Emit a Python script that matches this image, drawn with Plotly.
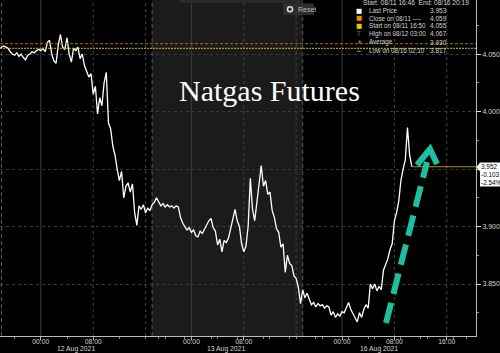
import plotly.graph_objects as go
import pandas as pd

# ---------------- data ----------------
start_time = "2021-08-11 16:50"
start_price = 4.055
session_starts = ["2021-08-11 18:00", "2021-08-12 18:00", "2021-08-15 18:00"]
session_ends = ["2021-08-12 16:40", "2021-08-13 16:40", "2021-08-16 10:40"]
step = "20min"

price_a = [4.056, 4.057, 4.056, 4.055, 4.052, 4.050, 4.049, 4.051, 4.048, 4.050,
           4.047, 4.045, 4.049, 4.050, 4.052, 4.051, 4.053, 4.054, 4.053, 4.055,
           4.052, 4.060, 4.062, 4.050, 4.044, 4.042, 4.058, 4.067, 4.056, 4.054,
           4.064, 4.050, 4.043, 4.055, 4.053, 4.056, 4.046, 4.050, 4.040, 4.035,
           4.030, 4.033, 4.015, 4.022, 3.998, 4.012, 4.005, 4.025, 4.034, 3.990,
           3.985, 3.970, 3.962, 3.950, 3.940, 3.948, 3.925, 3.935, 3.938, 3.930,
           3.937, 3.912, 3.901, 3.918, 3.915, 3.919, 3.912, 3.916, 3.914]
price_b = [3.919, 3.921, 3.925, 3.922, 3.918, 3.920, 3.917, 3.919, 3.917, 3.918,
           3.916, 3.918, 3.917, 3.908, 3.903, 3.900, 3.897, 3.899, 3.895, 3.897,
           3.892, 3.891, 3.896, 3.894, 3.898, 3.902, 3.905, 3.907, 3.899, 3.896,
           3.884, 3.889, 3.878, 3.888, 3.886, 3.890, 3.898, 3.905, 3.915, 3.905,
           3.900, 3.885, 3.878, 3.883, 3.900, 3.942, 3.915, 3.905, 3.920, 3.935,
           3.953, 3.935, 3.940, 3.928, 3.930, 3.914, 3.908, 3.898, 3.895, 3.882,
           3.885, 3.860, 3.875, 3.868, 3.866, 3.857, 3.855, 3.847, 3.833]
price_c = [3.845, 3.838, 3.842, 3.837, 3.832, 3.834, 3.830, 3.833, 3.831, 3.832,
           3.829, 3.831, 3.830, 3.823, 3.826, 3.821, 3.824, 3.822, 3.826, 3.825,
           3.829, 3.834, 3.828, 3.824, 3.821, 3.817, 3.825, 3.821, 3.828, 3.832,
           3.829, 3.850, 3.846, 3.850, 3.844, 3.848, 3.845, 3.862, 3.867, 3.872,
           3.880, 3.885, 3.905, 3.912, 3.922, 3.940, 3.950, 3.958, 3.986, 3.962,
           3.952]

close_prev = 4.059
start_val = 4.055
last_change = "-0.103"
last_pct = "-2.54%"

daily_breaks = ["2021-08-11 17:00", "2021-08-12 17:00", "2021-08-16 17:00"]
weekend_break = ["2021-08-13 17:00"]

x_tickvals = ["2021-08-12 00:00", "2021-08-12 08:00", "2021-08-13 00:00", "2021-08-13 08:00",
              "2021-08-16 00:00", "2021-08-16 08:00", "2021-08-16 16:00"]
x_ticktext = ["00:00", "08:00", "00:00", "08:00", "00:00", "08:00", "16:00"]
day_labels = ["12 Aug 2021", "13 Aug 2021", "16 Aug 2021"]
day_label_pos = ["2021-08-12 05:20", "2021-08-13 05:20", "2021-08-16 05:40"]
midnights = ["2021-08-12 00:00", "2021-08-13 00:00", "2021-08-16 00:00"]
dotted_hours = ["2021-08-12 08:00", "2021-08-12 16:00", "2021-08-13 08:00", "2021-08-13 16:00",
                "2021-08-16 08:00", "2021-08-16 16:00"]
session_bounds = ["2021-08-11 18:00", "2021-08-12 18:00", "2021-08-15 18:00"]
y_tickvals = [3.85, 3.90, 3.95, 4.00, 4.05]
y_ticktext = ["3.850", "3.900", "", "4.000", "4.050"]

legend_rows = [("■", "#ffffff", "Last Price", "3.953"),
               ("■", "#f08c00", "Close on 08/11 ----", "4.059"),
               ("■", "#e6c800", "Start on 08/11 16:50", "4.055"),
               ("⊤", "#bbbbbb", "High on 08/12 03:00", "4.067"),
               ("+", "#bbbbbb", "Average", "3.930"),
               ("⊥", "#bbbbbb", "Low on 08/16 02:10", "3.817")]

# ---------------- build series ----------------
times = [pd.Timestamp(start_time)]
prices = [start_price]
for s, e, vals in zip(session_starts, session_ends, [price_a, price_b, price_c]):
    rng = pd.date_range(s, e, freq=step)
    times += list(rng)
    prices += vals

x_range = ["2021-08-11 16:46", "2021-08-16 21:28"]

W, H = 476.0, 336.0
def px(x):
    return x / W
def py(y):
    return 1 - y / H

TXT = "#d4d4d4"
FONT = "Liberation Sans"

fig = go.Figure()
fig.add_trace(go.Scatter(x=times, y=prices, mode="lines",
                         line=dict(color="#ffffff", width=1.3),
                         showlegend=False, hoverinfo="skip"))

shapes = []
shapes.append(dict(type="rect", xref="x", yref="paper", x0="2021-08-12 18:00", x1="2021-08-13 16:59:59",
                   y0=0, y1=1, fillcolor="#1b1b1b", line=dict(width=0), layer="below"))
for d in midnights:
    shapes.append(dict(type="line", xref="x", yref="paper", x0=d, x1=d, y0=0, y1=1,
                       line=dict(color="#3c3c3c", width=1), layer="below"))
for d in dotted_hours:
    shapes.append(dict(type="line", xref="x", yref="paper", x0=d, x1=d, y0=0, y1=1,
                       line=dict(color="#444444", width=1, dash="dot"), layer="below"))
for d in session_bounds:
    shapes.append(dict(type="line", xref="x", yref="paper", x0=d, x1=d, y0=0, y1=1,
                       line=dict(color="#5a5a5a", width=1, dash="4px,3px"), layer="below"))
shapes.append(dict(type="line", xref="paper", yref="y", x0=0, x1=1, y0=close_prev, y1=close_prev,
                   line=dict(color="#a0701a", width=1, dash="3px,2px")))
shapes.append(dict(type="line", xref="paper", yref="y", x0=0, x1=1, y0=start_val, y1=start_val,
                   line=dict(color="#d8b814", width=1, dash="2px,1px")))
shapes.append(dict(type="line", xref="x", yref="y", x0=times[-1], x1=x_range[1],
                   y0=prices[-1], y1=prices[-1], line=dict(color="#b09010", width=1)))
shapes.append(dict(type="path", xref="paper", yref="paper",
                   path=f"M {px(476.5)},{py(167)} L {px(480)},{py(162.5)} L {px(500)},{py(162.5)} "
                        f"L {px(500)},{py(186.5)} L {px(480)},{py(186.5)} L {px(480)},{py(171.5)} Z",
                   fillcolor="#ffffff", line=dict(width=0)))
shapes.append(dict(type="line", xref="paper", yref="paper", x0=px(386), y0=py(323), x1=px(427), y1=py(162),
                   line=dict(color="#1cc09f", width=6, dash="21px,9px")))
shapes.append(dict(type="path", xref="paper", yref="paper",
                   path=f"M {px(417)},{py(165)} L {px(430)},{py(149)} L {px(437)},{py(164)}",
                   line=dict(color="#1cc09f", width=6)))
shapes.append(dict(type="rect", xref="paper", yref="paper", x0=px(180), x1=px(303), y0=py(3), y1=py(0),
                   fillcolor="#2a2a2a", line=dict(width=0)))
shapes.append(dict(type="rect", xref="paper", yref="paper", x0=px(283), x1=px(314), y0=py(15), y1=py(3.5),
                   fillcolor="#2e2e2e", line=dict(width=0)))
shapes.append(dict(type="circle", xref="paper", yref="paper", x0=px(287.5), x1=px(292.5), y0=py(11.7), y1=py(6.7),
                   fillcolor="#2e2e2e", line=dict(color="#e0e0e0", width=1.5)))

annotations = []
annotations.append(dict(text="Natgas Futures", xref="paper", yref="paper", x=px(269), y=py(91),
                        yanchor="middle", showarrow=False,
                        font=dict(family="Liberation Serif", size=30, color="#ffffff")))
annotations.append(dict(text="Reset", xref="paper", yref="paper", x=px(296), y=py(9.3), xanchor="left",
                        yanchor="middle", showarrow=False, font=dict(family=FONT, size=7, color="#bbbbbb")))
for lab, pos in zip(day_labels, day_label_pos):
    annotations.append(dict(text=lab, xref="x", yref="paper", x=pos, y=py(349), yanchor="middle",
                            showarrow=False, font=dict(family=FONT, size=6.8, color=TXT)))
for t, yy in zip([f"{prices[-1]:.3f}", last_change, last_pct], [166.8, 174.5, 182.3]):
    annotations.append(dict(text=t, xref="paper", yref="paper", x=px(478.8), y=py(yy), xanchor="left",
                            yanchor="middle", showarrow=False, font=dict(family=FONT, size=6.4, color="#000000")))
annotations.append(dict(text="Start: 08/11 16:46  End: 08/16 20:19", xref="paper", yref="paper",
                        x=px(471), y=py(3), xanchor="right", yanchor="middle", showarrow=False,
                        font=dict(family=FONT, size=6.6, color=TXT)))
row_y = [10.7, 18.3, 26, 34, 42.3, 50]
for (ic, col, lab, val), yy in zip(legend_rows, row_y):
    annotations.append(dict(text=ic, xref="paper", yref="paper", x=px(362.5), y=py(yy), xanchor="right",
                            yanchor="middle", showarrow=False, borderpad=0,
                            font=dict(family="DejaVu Sans", size=6.5, color=col)))
    annotations.append(dict(text=lab, xref="paper", yref="paper", x=px(366.5), y=py(yy), xanchor="left",
                            yanchor="middle", showarrow=False, font=dict(family=FONT, size=6.3, color=TXT)))
    annotations.append(dict(text=val, xref="paper", yref="paper", x=px(449), y=py(yy), xanchor="right",
                            yanchor="middle", showarrow=False, font=dict(family=FONT, size=6.5, color=TXT)))

fig.update_layout(
    width=500, height=353,
    margin=dict(l=0, r=24, t=0, b=17),
    paper_bgcolor="#000000", plot_bgcolor="#000000",
    shapes=shapes, annotations=annotations,
    showlegend=False,
    xaxis=dict(type="date", range=x_range, automargin=False,
               rangebreaks=[dict(values=daily_breaks, dvalue=3600000),
                            dict(values=weekend_break, dvalue=49 * 3600000)],
               tickvals=x_tickvals, ticktext=x_ticktext, showgrid=False, zeroline=False,
               ticks="outside", ticklen=3, tickcolor="#bbbbbb", ticklabelstandoff=-4,
               tickfont=dict(family=FONT, size=6.8, color=TXT),
               minor=dict(dtick=4 * 3600000, ticks="outside", ticklen=2, tickcolor="#888888", showgrid=False),
               showline=True, linecolor="#bbbbbb", linewidth=1),
    yaxis=dict(side="right", range=[3.8048, 4.097], tickvals=y_tickvals, ticktext=y_ticktext,
               automargin=False,
               showgrid=True, gridcolor="#3a3a3a", griddash="dot", gridwidth=1, zeroline=False,
               ticks="outside", ticklen=4, tickcolor="#dddddd",
               tickfont=dict(family=FONT, size=7, color=TXT),
               minor=dict(tickmode="linear", tick0=0, dtick=0.025, ticks="outside", ticklen=2,
                          tickcolor="#999999", showgrid=False),
               showline=True, linecolor="#bbbbbb", linewidth=1),
)

fig.write_html("out.html")
